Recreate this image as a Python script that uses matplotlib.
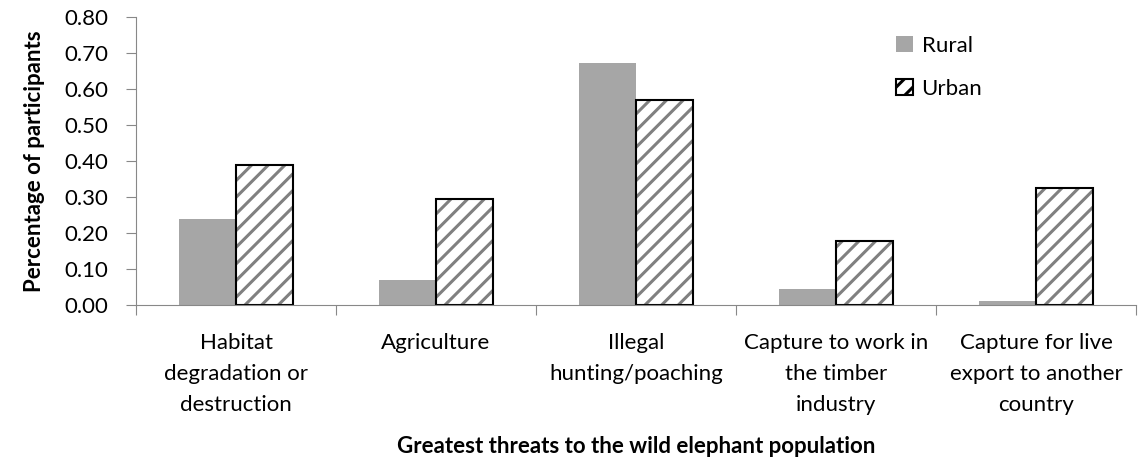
import matplotlib.pyplot as plt
import numpy as np
from matplotlib.patches import Patch

plt.rcParams['font.family'] = ['Lato', 'DejaVu Sans']
plt.rcParams['hatch.linewidth'] = 2.2

categories = ["Habitat\ndegradation or\ndestruction", "Agriculture",
              "Illegal\nhunting/poaching", "Capture to work in\nthe timber\nindustry",
              "Capture for live\nexport to another\ncountry"]
rural = [0.24, 0.07, 0.672, 0.045, 0.01]
urban = [0.39, 0.295, 0.569, 0.178, 0.325]

fig = plt.figure(figsize=(11.39, 4.57), dpi=100)
ax = fig.add_axes([0.1194, 0.3326, 0.8780, 0.6302])

x = np.arange(len(categories))
w = 0.285
ax.bar(x - w / 2, rural, w, color='#a6a6a6', label='Rural')
# hatch colour follows edgecolor, so draw the stripes and the black outline separately
ax.bar(x + w / 2, urban, w, facecolor='white', edgecolor='#808080', linewidth=0,
       hatch='//')
ax.bar(x + w / 2, urban, w, facecolor='none', edgecolor='black', linewidth=1.5)

ax.set_xlim(-0.5, len(categories) - 0.5)
ax.set_ylim(0, 0.8)
yt = np.arange(0, 0.81, 0.1)
ax.set_yticks(yt)
ax.set_yticklabels([f"{v:.2f}" for v in yt], fontsize=16)
ax.set_xticks(np.arange(-0.5, len(categories), 1.0))
ax.set_xticklabels([])
ax.set_xticks(x, minor=True)
ax.set_xticklabels(categories, minor=True, fontsize=16, linespacing=1.7)
ax.tick_params(axis='x', which='minor', length=0, pad=20)
ax.tick_params(axis='x', which='major', length=7, color='#888888')
ax.tick_params(axis='y', length=7, color='#888888', pad=13)

for s in ['top', 'right']:
    ax.spines[s].set_visible(False)
for s in ['left', 'bottom']:
    ax.spines[s].set_color('#888888')

ax.set_ylabel('Percentage of participants', fontsize=16, fontweight='bold', labelpad=14)
ax.set_xlabel('Greatest threats to the wild elephant population', fontsize=16,
              fontweight='bold', labelpad=15)

handles = [Patch(facecolor='#a6a6a6', edgecolor='none'),
           Patch(facecolor='white', edgecolor='black', linewidth=1.5, hatch='//')]
leg = ax.legend(handles, ['Rural', 'Urban'], loc='upper left', bbox_to_anchor=(0.74, 1.005),
                frameon=False, fontsize=16, handlelength=0.75, handleheight=0.75,
                handletextpad=0.4, labelspacing=1.05)

fig.savefig('out.png', dpi=100)
